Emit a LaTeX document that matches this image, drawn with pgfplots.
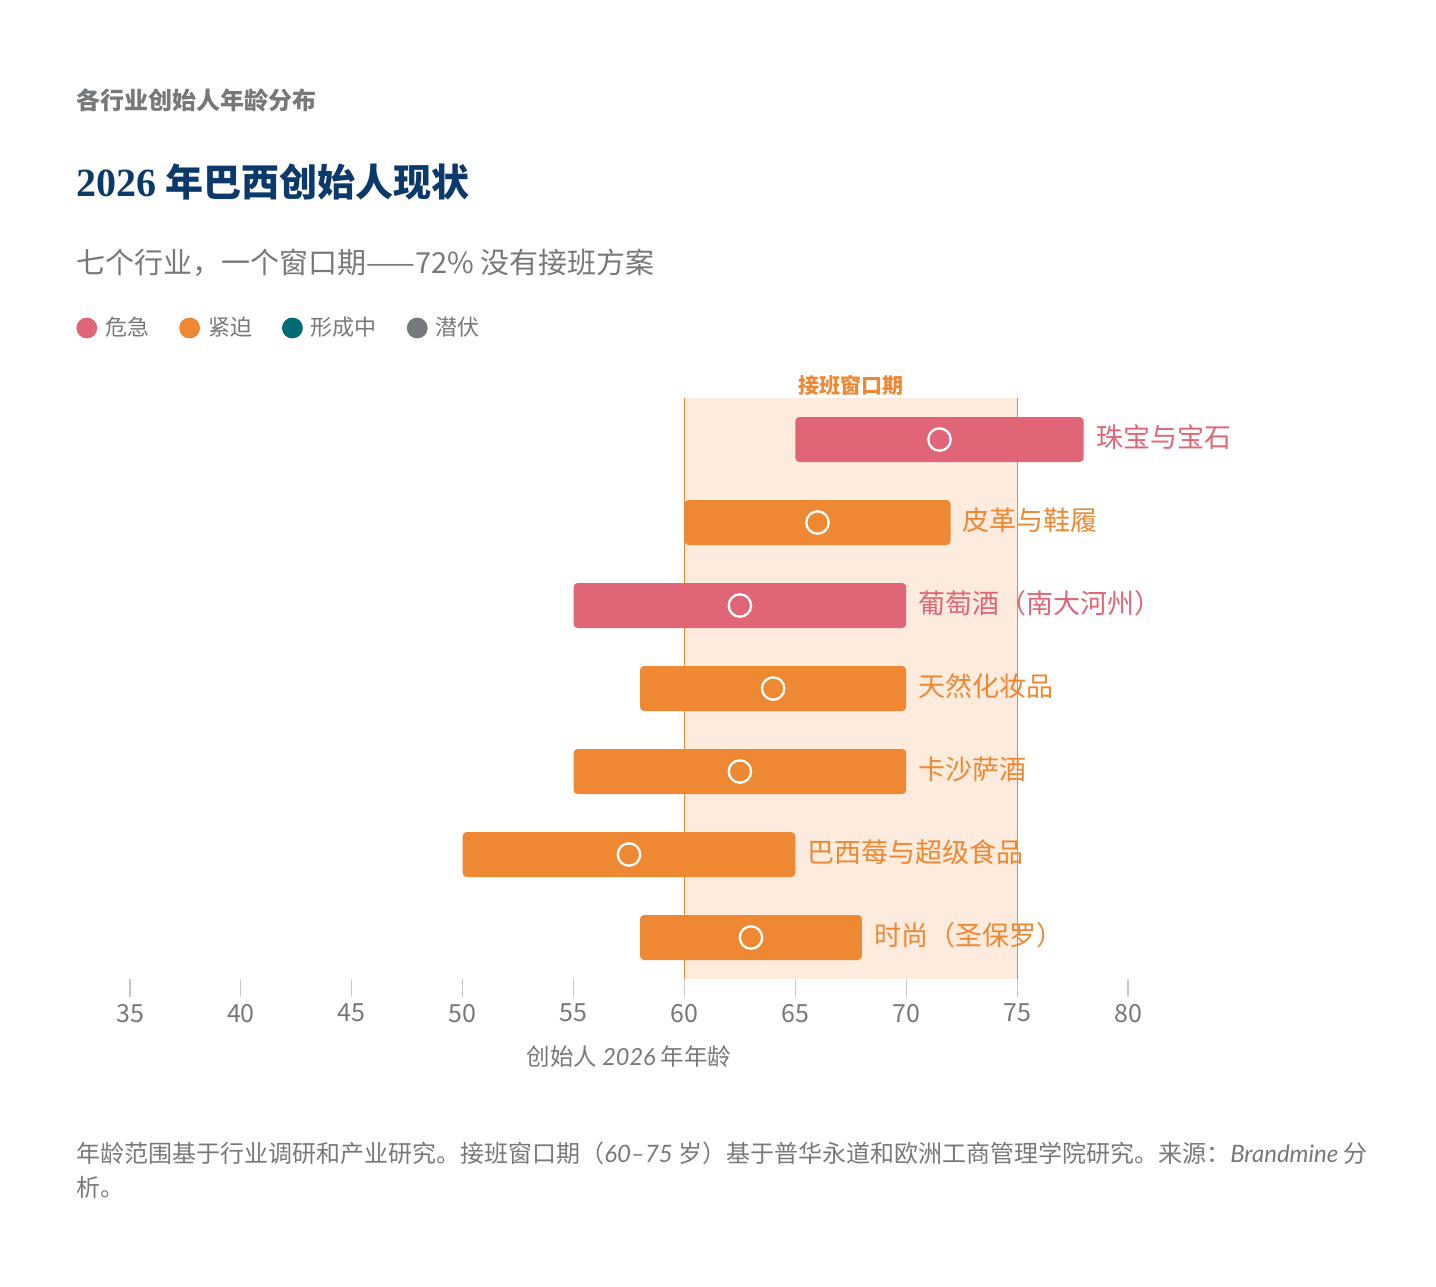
\documentclass[border=0pt]{standalone}
\usepackage{fontspec}
\usepackage{pgfplots}
\pgfplotsset{compat=1.18}
\setmainfont{Noto Sans CJK SC}
\newfontfamily\lato{Lato}
\newfontfamily\serifb{Liberation Serif}

\definecolor{crit}{HTML}{E06677}
\definecolor{urg}{HTML}{EE8833}
\definecolor{form}{HTML}{006B75}
\definecolor{latent}{HTML}{76797C}
\definecolor{txt}{HTML}{76797C}
\definecolor{navy}{HTML}{0B3A6A}
\definecolor{win}{HTML}{FDEBDD}
\definecolor{tickc}{HTML}{C8C8C8}

\newcommand{\fs}[1]{\fontsize{#1}{1.2\dimexpr#1\relax}\selectfont}

\begin{document}
\begin{tikzpicture}
\useasboundingbox (0,0) rectangle (718pt,-643pt);

\begin{axis}[
    at={(65pt,-489.5pt)}, anchor=south west,
    scale only axis,
    width=499pt, height=290.5pt,
    xmin=35, xmax=80,
    ymin=-0.5, ymax=6.5,
    clip=false,
    hide y axis,
    axis x line*=bottom,
    x axis line style={draw=none},
    xtick={35,40,...,80},
    tick align=outside,
    major tick length=9pt,
    xtick style={tickc, line width=0.6pt},
    xticklabel style={text=txt, font=\fs{12.5pt}},
    /pgf/number format/assume math mode=true,
    legend style={at={(-0.0541,1.1205)}, anchor=west, draw=none, fill=none,
        inner sep=0pt, nodes={inner sep=0pt}, font=\fs{11pt}, text=txt,
        /tikz/every odd column/.style={column sep=4pt},
        /tikz/every even column/.style={column sep=15pt}},
    legend columns=4,
    legend cell align=left,
    legend image code/.code={\fill[#1] (5pt,0pt) circle (5pt);},
]

% succession window 60-75
\addplot[fill=win, draw=none, forget plot] coordinates {(60,-0.5) (75,-0.5) (75,6.5) (60,6.5)} --cycle;
\addplot[urg, line width=0.6pt, forget plot] coordinates {(60,-0.5) (60,6.5)};
\addplot[urg, line width=0.6pt, forget plot] coordinates {(75,-0.5) (75,6.5)};

% age ranges
\addplot[fill=crit, draw=none, rounded corners=2pt, forget plot] coordinates {(65,5.729) (78,5.729) (78,6.271) (65,6.271)} --cycle;
\addplot[fill=urg, draw=none, rounded corners=2pt, forget plot] coordinates {(60,4.729) (72,4.729) (72,5.271) (60,5.271)} --cycle;
\addplot[fill=crit, draw=none, rounded corners=2pt, forget plot] coordinates {(55,3.729) (70,3.729) (70,4.271) (55,4.271)} --cycle;
\addplot[fill=urg, draw=none, rounded corners=2pt, forget plot] coordinates {(58,2.729) (70,2.729) (70,3.271) (58,3.271)} --cycle;
\addplot[fill=urg, draw=none, rounded corners=2pt, forget plot] coordinates {(55,1.729) (70,1.729) (70,2.271) (55,2.271)} --cycle;
\addplot[fill=urg, draw=none, rounded corners=2pt, forget plot] coordinates {(50,0.729) (65,0.729) (65,1.271) (50,1.271)} --cycle;
\addplot[fill=urg, draw=none, rounded corners=2pt, forget plot] coordinates {(58,-0.271) (68,-0.271) (68,0.271) (58,0.271)} --cycle;

% midpoints
\addplot[only marks, mark=o, white, mark size=5.6pt, line width=1.15pt, forget plot] coordinates {
    (71.5,6) (66,5) (62.5,4) (64,3) (62.5,2) (57.5,1) (63,0)
};

\addlegendimage{crit}\addlegendentry{危急}
\addlegendimage{urg}\addlegendentry{紧迫}
\addlegendimage{form}\addlegendentry{形成中}
\addlegendimage{latent}\addlegendentry{潜伏}

\begin{scope}[font=\fs{13.5pt}, inner sep=0pt]
\node[anchor=west, text=crit, xshift=6pt, yshift=1.2pt] at (axis cs:78,6) {珠宝与宝石};
\node[anchor=west, text=urg, xshift=6pt, yshift=1.2pt] at (axis cs:72,5) {皮革与鞋履};
\node[anchor=west, text=crit, xshift=6pt, yshift=1.2pt] at (axis cs:70,4) {葡萄酒（南大河州）};
\node[anchor=west, text=urg, xshift=6pt, yshift=1.2pt] at (axis cs:70,3) {天然化妆品};
\node[anchor=west, text=urg, xshift=6pt, yshift=1.2pt] at (axis cs:70,2) {卡沙萨酒};
\node[anchor=west, text=urg, xshift=6pt, yshift=1.2pt] at (axis cs:65,1) {巴西莓与超级食品};
\node[anchor=west, text=urg, xshift=6pt, yshift=1.2pt] at (axis cs:68,0) {时尚（圣保罗）};
\end{scope}
\node[anchor=south, text=urg, font=\fs{10.5pt}\bfseries, inner sep=0pt, yshift=1pt] at (axis cs:67.5,6.5) {接班窗口期};
\end{axis}

\begin{scope}[x=0.5pt, y=-0.5pt, inner sep=0pt]
\node[anchor=west, text=txt, font=\fs{12pt}\bfseries] at (76,100) {各行业创始人年龄分布};
\node[anchor=west, text=navy, font=\fs{19pt}\bfseries] at (76,182) {{\serifb\fontsize{20pt}{24pt}\selectfont 2026} 年巴西创始人现状};
\node[anchor=west, text=txt, font=\fs{14.5pt}] at (76,263) {七个行业，一个窗口期——72\% 没有接班方案};
\node[anchor=center, text=txt, font=\fs{11.75pt}] at (629,1057) {创始人 {\lato\itshape 2026} 年年龄};
\node[anchor=west, text=txt, font=\fs{12pt}] at (76,1153) {年龄范围基于行业调研和产业研究。接班窗口期（{\lato\itshape 60–75} 岁）基于普华永道和欧洲工商管理学院研究。来源：{\lato\itshape Brandmine} 分};
\node[anchor=west, text=txt, font=\fs{12pt}] at (76,1187) {析。};
\end{scope}
\end{tikzpicture}
\end{document}
